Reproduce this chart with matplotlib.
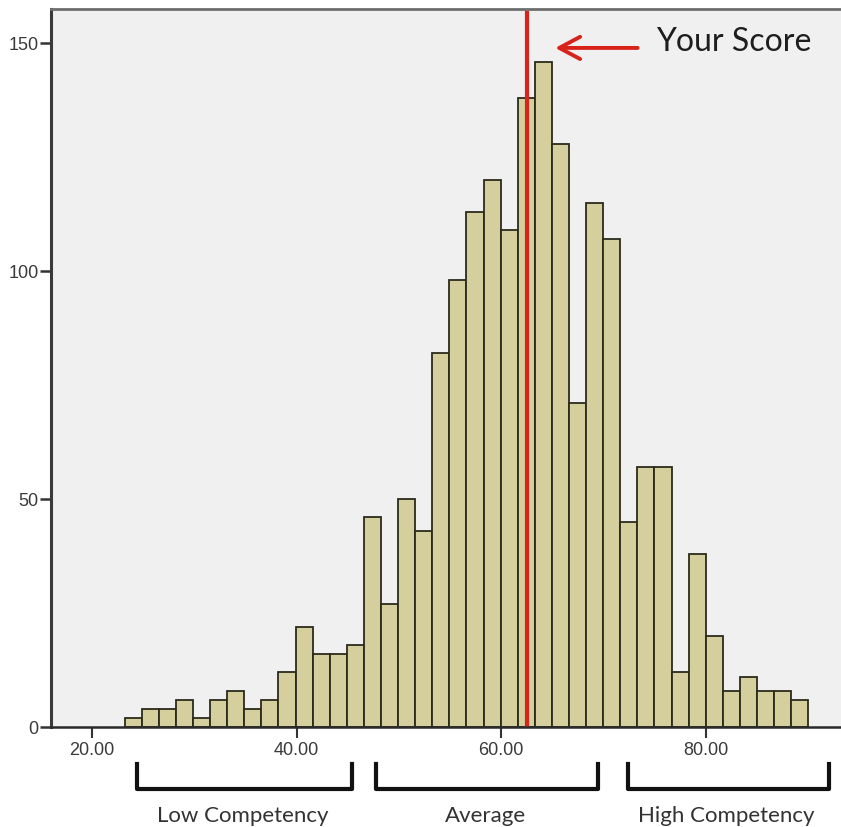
import numpy as np
import matplotlib
matplotlib.use('Agg')
import matplotlib.pyplot as plt

# histogram bins (score) and counts
bin_start = 23.2
bin_width = 1.67
counts = [2, 4, 4, 6, 2, 6, 8, 4, 6, 12,
          22, 16, 16, 18, 46, 27, 50, 43, 82, 98,
          113, 120, 109, 138, 146, 128, 71, 115, 107, 45,
          57, 57, 12, 38, 20, 8, 11, 8, 8, 6]
your_score = 62.55
x_ticks = [20, 40, 60, 80]
y_ticks = [0, 50, 100, 150]
groups = ['Low Competency', 'Average', 'High Competency']
group_ranges = [(24.4, 45.4), (47.8, 69.5), (72.4, 92.0)]

edges = bin_start + bin_width * np.arange(len(counts) + 1)

fig = plt.figure(figsize=(8.41, 8.27), dpi=100)
ax = fig.add_axes([0.0606, 0.1209, 0.9394, 0.868])
ax.set_facecolor('#f0f0f0')

ax.bar(edges[:-1], counts, width=bin_width, align='edge',
       color='#d4cf9c', edgecolor='#2b2b1c', linewidth=1.3)

red = '#d8231b'
ax.axvline(your_score, ymin=0, ymax=0.995, color=red, linewidth=3.0)
ax.annotate('', xy=(65.0, 149), xytext=(73.6, 149),
            arrowprops=dict(arrowstyle='->,head_length=0.75,head_width=0.4',
                            color=red, lw=2.8, mutation_scale=20))
ax.text(75.1, 150.2, 'Your Score', fontsize=23, family='Lato',
        color='#1e1e1e', va='center', ha='left')

ax.set_xlim(16.0, 93.2)
ax.set_ylim(0, 157.5)
ax.set_xticks(x_ticks)
ax.set_xticklabels(['%.2f' % v for v in x_ticks])
ax.set_yticks(y_ticks)

for lbl in ax.get_xticklabels() + ax.get_yticklabels():
    lbl.set_family('Liberation Sans')
    lbl.set_fontsize(13)
    lbl.set_color('#3a3a3a')
ax.tick_params(axis='x', length=8, width=1.5, color='#333333', pad=3, direction='out')
ax.tick_params(axis='y', length=8, width=1.8, color='#333333', pad=1, direction='out')

ax.spines['right'].set_visible(False)
ax.spines['top'].set_color('#6e6e6e')
ax.spines['top'].set_linewidth(2)
ax.spines['left'].set_color('#3a3a3a')
ax.spines['left'].set_linewidth(2.2)
ax.spines['bottom'].set_color('#2a2a2a')
ax.spines['bottom'].set_linewidth(1.8)

# brackets and group labels under the axis
for name, (x0, x1) in zip(groups, group_ranges):
    ax.plot([x0, x0, x1, x1], [-8.2, -13.6, -13.6, -8.2], color='#111111',
            linewidth=3, clip_on=False, solid_joinstyle='round')
    ax.text((x0 + x1) / 2 - 0.2, -19.5, name, fontsize=16, family='Lato',
            color='#333333', ha='center', va='center')

fig.savefig('out.png', dpi=100, facecolor='white')
